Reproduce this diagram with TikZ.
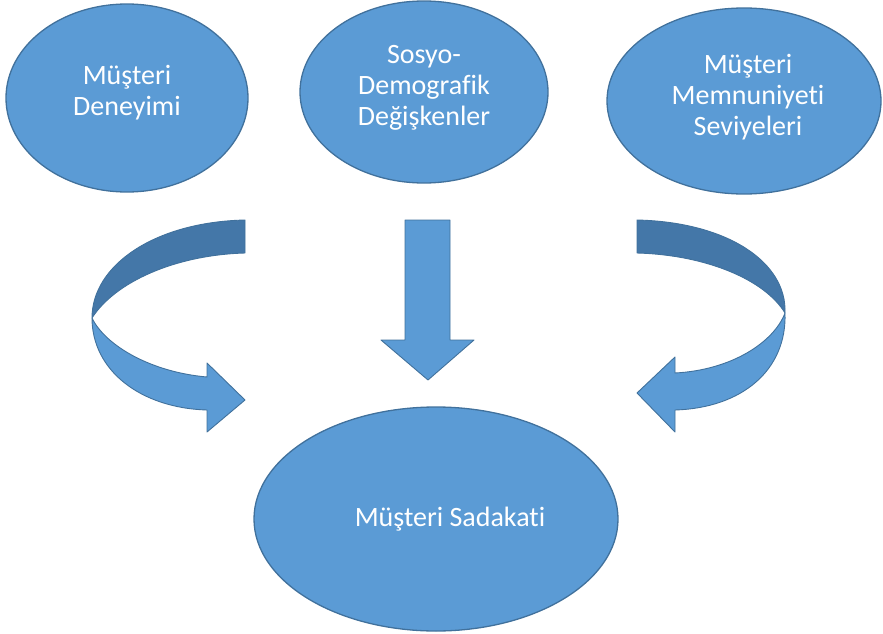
\documentclass[tikz,border=0pt]{standalone}
\usepackage{fontspec}
\setmainfont[Ligatures=NoCommon]{Carlito}
\usetikzlibrary{shapes.geometric}
\definecolor{fillblue}{RGB}{91,155,213}
\definecolor{lineblue}{RGB}{65,113,156}
\definecolor{darkband}{RGB}{68,119,168}
\begin{document}
\begin{tikzpicture}[x=1pt,y=-1pt,
  bubble/.style={ellipse, draw=lineblue, line width=1.3pt, fill=fillblue, inner sep=0pt},
  label/.style={text=white, font=\fontsize{28}{31}\selectfont, align=center},
  arrowshape/.style={draw=lineblue, line width=0.9pt, fill=fillblue, line join=round},
  darkshape/.style={draw=lineblue, line width=0.9pt, fill=darkband, line join=round}]
\useasboundingbox (0,0) rectangle (883,634);
% ellipses
\node[bubble, minimum width=242pt, minimum height=188pt] (exp) at (127,98) {};
\node[label] (expt) at (127,93) {Müşteri\\Deneyimi};
\node[bubble, minimum width=248pt, minimum height=182pt] (demo) at (424,92) {};
\node[label] (demot) at (424,88) {Sosyo-\\Demografik\\Değişkenler};
\node[bubble, minimum width=274pt, minimum height=186pt] (sat) at (744,101) {};
\node[label] (satt) at (748,97) {Müşteri\\Memnuniyeti\\Seviyeleri};
\node[bubble, minimum width=364pt, minimum height=224pt] (loy) at (436,519) {};
\node[label] (loyt) at (450,519) {Müşteri Sadakati};
% down arrow
\draw[arrowshape] (405,220) -- (450,220) -- (450,340) -- (474,340) -- (428,380) -- (381,340) -- (405,340) -- cycle;
% left curved arrow
\begin{scope}
\draw[darkshape] (245,220) .. controls (155,222) and (92,265) .. (92,318)
   .. controls (115,282) and (175,255) .. (245,253) -- cycle;
\draw[arrowshape] (92,318) .. controls (92,370) and (140,408) .. (207,410)
   -- (207,432) -- (245,400) -- (207,363) -- (207,377)
   .. controls (150,372) and (105,345) .. (92,318) -- cycle;
\end{scope}
% right curved arrow (mirror)
\begin{scope}[shift={(882,0)}, xscale=-1]
\draw[darkshape] (245,220) .. controls (155,222) and (95,262) .. (97,313)
   .. controls (117,280) and (175,255) .. (245,253) -- cycle;
\draw[arrowshape] (97,313) .. controls (95,370) and (140,408) .. (207,410)
   -- (207,432) -- (245,393) -- (207,357) -- (207,373)
   .. controls (150,370) and (108,342) .. (97,313) -- cycle;
\end{scope}
\end{tikzpicture}
\end{document}
